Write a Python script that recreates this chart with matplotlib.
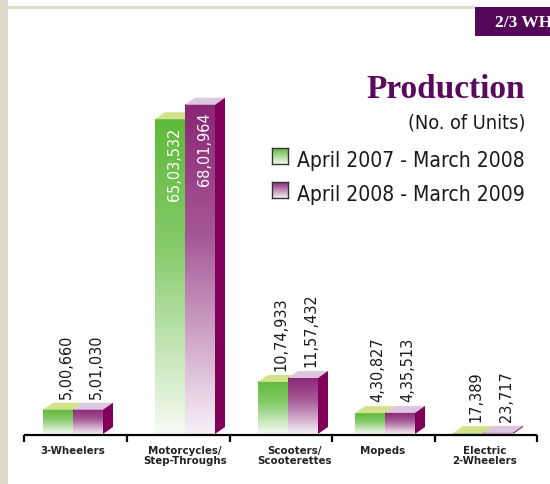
import numpy as np
import matplotlib
matplotlib.use("Agg")
import matplotlib.pyplot as plt
from matplotlib.colors import LinearSegmentedColormap, to_rgb
from matplotlib.patches import Polygon, Rectangle
from matplotlib import font_manager

# ── Data ──────────────────────────────────────────────────────────────────────
categories = ["3-Wheelers", "Motorcycles/\nStep-Throughs", "Scooters/\nScooterettes",
              "Mopeds", "Electric\n2-Wheelers"]
units_0708 = [500660, 6503532, 1074933, 430827, 17389]
units_0809 = [501030, 6801964, 1157432, 435513, 23717]
series_names = ["April 2007 - March 2008", "April 2008 - March 2009"]

# ── Layout (pixels) ───────────────────────────────────────────────────────────
W, H = 550, 485
BASE = 435                       # baseline y (px from top)
PX_PER_UNIT = 48.4 / 1e6         # bar scale
PAIR_X = [73, 185, 288, 385, 483]   # boundary between the two bars of a pair
LABEL_X = [73, 185, 295, 383, 485]
TICK_X = [24, 127, 230, 332, 435, 537]
BAR_W = 30
DX, DY_PX = 10, 7

GREEN_TOP, GREEN_BOT, GREEN_LID = "#5fba3b", "#f7fbf4", "#d2e28a"
PURP_TOP, PURP_BOT, PURP_LID = "#8a2676", "#f7f0f7", "#ddc6e0"
SIDE = "#80005a"
DARK = "#5a0a5c"

# pick the narrowest available sans family
names = {(f.name, f.stretch) for f in font_manager.fontManager.ttflist}
if any(n == "Liberation Sans Narrow" for n, _ in names):
    NARROW = dict(family=["Liberation Sans Narrow", "DejaVu Sans"])
elif ("DejaVu Sans", "condensed") in names or ("DejaVu Sans", 300) in names:
    NARROW = dict(family=["DejaVu Sans"], stretch="condensed")
else:
    NARROW = dict(family=["Liberation Sans", "DejaVu Sans"])


def fx(px):
    return px / W


def fy(px):
    return 1 - px / H


def indian(n):
    s = str(n)
    head, tail = s[:-3], s[-3:]
    parts = []
    while len(head) > 2:
        parts.insert(0, head[-2:])
        head = head[:-2]
    if head:
        parts.insert(0, head)
    return ",".join(parts + [tail])


fig = plt.figure(figsize=(W / 100, H / 100), dpi=100)
renderer = fig.canvas.get_renderer()

# scale narrow-font sizes so the legend line has the reference width (228 px)
probe = fig.text(0, 0, series_names[0], fontsize=17, **NARROW)
SC = min(1.0, 228 / probe.get_window_extent(renderer).width)
probe.remove()

ax = fig.add_axes([0, 0, 1, 1])
ax.set_axis_off()
ylo = -(H - BASE) / PX_PER_UNIT
yhi = BASE / PX_PER_UNIT
DY = DY_PX / PX_PER_UNIT


def front(x0, x1, h, top, bot):
    t, b = np.array(to_rgb(top)), np.array(to_rgb(bot))
    mid = t * 0.75 + b * 0.25
    cmap = LinearSegmentedColormap.from_list(
        "g", [(0.0, t), (0.4, mid), (1.0, b)])
    grad = np.linspace(0, 1, 256)[:, None]
    ax.imshow(grad, cmap=cmap, extent=(x0, x1, 0, h), origin="upper",
              aspect="auto", interpolation="bicubic", zorder=2)


for i, (a, b) in enumerate(zip(units_0708, units_0809)):
    xm = PAIR_X[i]
    # green bar
    g0, g1 = xm - BAR_W, xm
    front(g0, g1, a, GREEN_TOP, GREEN_BOT)
    ax.add_patch(Polygon([(g0, a), (g0 + DX, a + DY), (g1 + DX, a + DY), (g1, a)],
                         closed=True, fc=GREEN_LID, ec="none", zorder=2))
    # purple bar
    p0, p1 = xm, xm + BAR_W
    front(p0, p1, b, PURP_TOP, PURP_BOT)
    ax.add_patch(Polygon([(p0, b), (p0 + DX, b + DY), (p1 + DX, b + DY), (p1, b)],
                         closed=True, fc=PURP_LID, ec="none", zorder=3))
    ax.add_patch(Polygon([(p1, 0), (p1 + DX, DY), (p1 + DX, b + DY), (p1, b)],
                         closed=True, fc=SIDE, ec="none", zorder=3))

    for x0, v in ((g0, a), (p0, b)):
        if v > 3e6:
            ax.text(x0 + BAR_W / 2 + 4, v - 7 / PX_PER_UNIT, indian(v), rotation=90,
                    ha="center", va="top", color="white", fontsize=13 * SC,
                    zorder=5, **NARROW)
        else:
            ax.text(x0 + BAR_W / 2 + 8, v + DY + 5 / PX_PER_UNIT, indian(v), rotation=90,
                    ha="center", va="bottom", color="#1a1a1a", fontsize=13 * SC,
                    zorder=5, **NARROW)

    ax.text(LABEL_X[i], -11 / PX_PER_UNIT, categories[i], ha="center", va="top",
            fontsize=9.2 * SC, fontweight="bold", color="#222222",
            linespacing=1.05, **NARROW)

# axis line and ticks
ax.plot([TICK_X[0], TICK_X[-1]], [-1 / PX_PER_UNIT, -1 / PX_PER_UNIT],
        color="black", lw=1.6, solid_capstyle="butt", zorder=4)
for t in TICK_X:
    ax.plot([t, t], [-1 / PX_PER_UNIT, -8 / PX_PER_UNIT], color="black", lw=1.6,
            solid_capstyle="butt", zorder=4)

ax.set_xlim(0, W)
ax.set_ylim(ylo, yhi)

# page decorations
fig.patches.append(Rectangle((0, 0), fx(8), 1, transform=fig.transFigure,
                             fc="#dcdbcb", ec="none"))
fig.patches.append(Rectangle((fx(8), fy(10)), fx(475 - 8), 3 / H,
                             transform=fig.transFigure, fc="#dcdbcb", ec="none"))
fig.patches.append(Rectangle((fx(475), fy(37)), fx(W - 475), 29 / H,
                             transform=fig.transFigure, fc="#55085a", ec="none"))
fig.text(fx(495), fy(27), "2/3 WHEELERS", color="white", fontsize=12.5,
         fontweight="bold", family="Liberation Serif", va="baseline", ha="left")

# title and legend
fig.text(fx(525), fy(98), "Production", color=DARK, fontsize=24, fontweight="bold",
         family="Liberation Serif", ha="right", va="baseline")
fig.text(fx(526), fy(129), "(No. of Units)", color="#1a1a1a", fontsize=16 * SC,
         ha="right", va="baseline", **NARROW)

for j, (name, top, bot) in enumerate(zip(series_names, [GREEN_TOP, PURP_TOP],
                                         [GREEN_BOT, PURP_BOT])):
    y0 = 149 + j * 34
    lax = fig.add_axes([fx(272), fy(y0 + 16), fx(16), 16 / H])
    lax.imshow(np.linspace(0, 1, 64)[:, None],
               cmap=LinearSegmentedColormap.from_list("l", [top, bot]),
               aspect="auto", extent=(0, 1, 0, 1), origin="upper")
    lax.set_xticks([])
    lax.set_yticks([])
    for s in lax.spines.values():
        s.set_color("#333333")
        s.set_linewidth(1.0)
    fig.text(fx(297), fy(y0 + 18), name, color="#1a1a1a", fontsize=17 * SC,
             ha="left", va="baseline", **NARROW)

fig.savefig("out.png", dpi=100)
